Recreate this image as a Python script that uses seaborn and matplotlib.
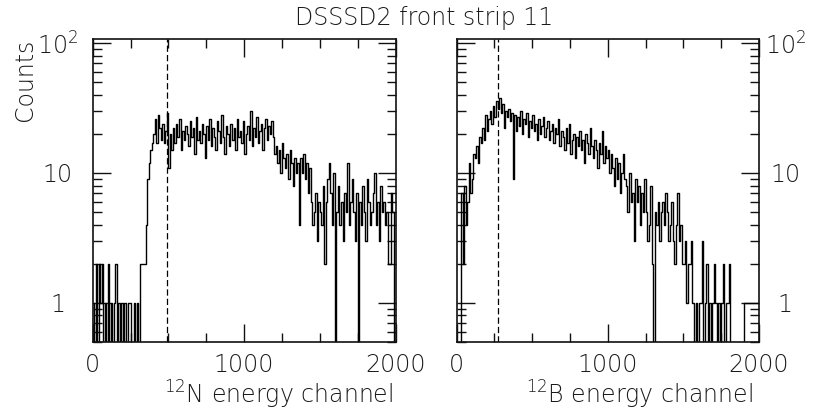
import numpy as np
import pandas as pd
import matplotlib
matplotlib.use("Agg")
import matplotlib.pyplot as plt
from matplotlib.ticker import MultipleLocator, LogLocator, FixedLocator, FixedFormatter, NullFormatter
import seaborn as sns

# Histogram bin width (channels) and spectra, 200 bins from 0 to 2000
BIN_WIDTH = 10

n12_counts = [
    1, 0, 2, 0, 2, 1, 2, 0, 1, 0,
    2, 0, 1, 0, 1, 2, 0, 1, 0, 1,
    0, 1, 0, 1, 1, 0, 0, 1, 0, 1,
    0, 2, 2, 2, 2, 4, 9, 12, 15, 17,
    20, 26, 17, 28, 22, 18, 24, 17, 21, 29,
    11, 20, 15, 22, 17, 24, 19, 26, 15, 21,
    18, 23, 20, 16, 25, 19, 22, 14, 27, 18,
    21, 17, 24, 20, 13, 23, 18, 26, 16, 22,
    19, 15, 25, 21, 17, 28, 19, 14, 23, 20,
    16, 24, 18, 22, 15, 26, 19, 21, 17, 25,
    14, 20, 23, 18, 30, 16, 22, 19, 27, 17,
    21, 24, 15, 22, 26, 18, 23, 20, 25, 19,
    14, 16, 12, 15, 10, 17, 13, 11, 14, 9,
    15, 12, 8, 13, 10, 12, 4, 13, 10, 14,
    9, 12, 7, 11, 6, 4, 5, 7, 3, 6,
    5, 4, 8, 2, 6, 9, 12, 7, 4, 10,
    0, 5, 8, 4, 6, 3, 7, 5, 12, 4,
    6, 9, 5, 3, 7, 0, 6, 4, 8, 5,
    3, 9, 6, 4, 5, 7, 10, 4, 6, 3,
    8, 5, 6, 4, 5, 2, 2, 7, 5, 0,
]

b12_counts = [
    0, 0, 0, 7, 2, 8, 4, 6, 12, 7,
    9, 14, 13, 16, 12, 19, 17, 22, 18, 28,
    21, 26, 30, 24, 33, 27, 36, 31, 38, 29,
    34, 22, 30, 27, 31, 25, 29, 9, 28, 21,
    27, 23, 30, 20, 26, 24, 29, 19, 25, 22,
    28, 21, 24, 18, 26, 20, 23, 27, 19, 22,
    25, 18, 21, 24, 17, 22, 20, 26, 16, 21,
    19, 15, 22, 17, 24, 14, 18, 20, 13, 19,
    16, 21, 15, 18, 12, 20, 17, 14, 22, 16,
    13, 18, 15, 11, 17, 14, 21, 12, 16, 13,
    15, 10, 14, 11, 8, 13, 9, 12, 7, 10,
    14, 9, 8, 5, 10, 6, 7, 3, 9, 6,
    8, 4, 7, 5, 9, 5, 3, 4, 8, 2,
    0, 5, 4, 6, 3, 5, 6, 4, 7, 5,
    3, 4, 6, 3, 2, 4, 7, 3, 4, 2,
    2, 3, 1, 2, 2, 3, 1, 0, 1, 0,
    1, 1, 3, 0, 1, 2, 0, 1, 0, 1,
    2, 1, 0, 1, 0, 1, 2, 0, 1, 1,
    2, 0, 0, 0, 0, 0, 0, 0, 0, 0,
    1, 1, 1, 1, 1, 1, 1, 1, 1, 1,
]

# Energy gates (channels)
n12_gate = 490
b12_gate = 275

title = "DSSSD2 front strip 11"
n12_label = r"$\mathregular{^{12}}$N energy channel"
b12_label = r"$\mathregular{^{12}}$B energy channel"
y_label = "Counts"
x_ticks = [0, 1000, 2000]
x_ticklabels = ["0", "1000", "2000"]
y_ticks = [1, 10, 100]
y_ticklabels = ["1", "10", r"$\mathregular{10^{2}}$"]

FS = 17
TEXT = "#1a1a1a"

sns.set_theme(style="ticks")
plt.rcParams["font.family"] = ["DejaVu Sans"]
plt.rcParams["font.weight"] = "ultralight"
plt.rcParams["axes.labelweight"] = "ultralight"
plt.rcParams["axes.linewidth"] = 1.2
plt.rcParams["axes.edgecolor"] = "#111111"

edges = list(range(0, 2000 + BIN_WIDTH, BIN_WIDTH))
centers = [e + BIN_WIDTH / 2 for e in edges[:-1]]

W, H = 813, 418
fig = plt.figure(figsize=(W / 100, H / 100), dpi=100)
ax1 = fig.add_axes([92.7 / W, 1 - 342 / H, 302.8 / W, 303.3 / H])
ax2 = fig.add_axes([456.7 / W, 1 - 342 / H, 302.3 / W, 303.3 / H])


def draw_panel(ax, counts, gate, xlabel, label_side):
    df = pd.DataFrame({"channel": centers, "counts": np.asarray(counts, dtype=float)})
    sns.histplot(data=df, x="channel", weights="counts", bins=edges, element="step",
                 fill=False, color="black", linewidth=1.0, ax=ax)
    ax.set_yscale("log")
    ax.set_xlim(0, 2000)
    ax.set_ylim(0.5, 108)
    ax.axvline(gate, color="black", linewidth=0.9, linestyle=(0, (5, 2.5)))

    ax.xaxis.set_major_locator(FixedLocator(x_ticks))
    ax.xaxis.set_major_formatter(FixedFormatter(x_ticklabels))
    ax.xaxis.set_minor_locator(MultipleLocator(250))
    ax.yaxis.set_major_locator(FixedLocator(y_ticks))
    ax.yaxis.set_major_formatter(FixedFormatter(y_ticklabels))
    ax.yaxis.set_minor_locator(LogLocator(base=10, subs=np.arange(2, 10)))
    ax.yaxis.set_minor_formatter(NullFormatter())

    ax.tick_params(which="both", direction="in", top=True, bottom=True,
                   left=True, right=True, colors="#111111", labelsize=FS,
                   labelcolor=TEXT)
    ax.tick_params(which="major", length=13, width=1.0)
    ax.tick_params(which="minor", length=6.3, width=1.0)
    ax.tick_params(axis="x", pad=8)
    if label_side == "left":
        ax.tick_params(axis="y", labelleft=True, labelright=False, pad=25)
        for t in ax.yaxis.get_major_ticks():
            t.label1.set_horizontalalignment("center")
    else:
        ax.tick_params(axis="y", labelleft=False, labelright=True, pad=19)
        for t in ax.yaxis.get_major_ticks():
            t.label2.set_horizontalalignment("center")

    ax.set_xlabel(xlabel, fontsize=FS, loc="right", color=TEXT)
    ax.set_ylabel("")
    for s in ax.spines.values():
        s.set_visible(True)


draw_panel(ax1, n12_counts, n12_gate, n12_label, "left")
draw_panel(ax2, b12_counts, b12_gate, b12_label, "right")

ax1.xaxis.set_label_coords(0.992, -0.12)
ax2.xaxis.set_label_coords(0.980, -0.12)
ax1.set_ylabel(y_label, fontsize=FS, loc="top", color=TEXT)
ax1.yaxis.set_label_coords(-0.185, 1.0)

fig.text(424 / W, 1 - 17.5 / H, title, ha="center", va="center",
         fontsize=FS, color=TEXT)

fig.savefig("out.png", dpi=100)
